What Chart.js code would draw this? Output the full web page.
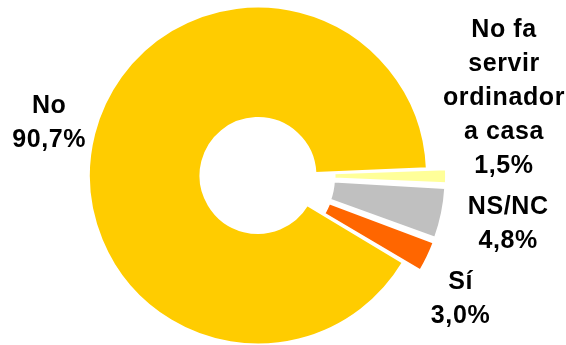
<!DOCTYPE html>
<html>
<head>
<meta charset="utf-8">
<script src="https://cdn.jsdelivr.net/npm/chart.js@4.4.0/dist/chart.umd.min.js"></script>
<style>
  html, body { margin: 0; padding: 0; background: #fff; }
  #wrap { width: 566px; height: 345px; }
</style>
</head>
<body>
<div id="wrap"><canvas id="chart"></canvas></div>
<script>
const categories = ["No", "No fa servir ordinador a casa", "NS/NC", "Sí"];
const shares = [90.7, 1.5, 4.8, 3.0];
const labelLines = [["No"], ["No fa", "servir", "ordinador", "a casa"], ["NS/NC"], ["Sí"]];
const sliceColors = ["#FFCC00", "#FFFF99", "#C0C0C0", "#FF6600"];

// where each label block sits relative to the outer edge of its slice
const labelNudge = [[-45, -13], [58, -80], [66, 9], [33, 40]];

const pct = (v) => v.toFixed(1).replace(".", ",") + "%";

const sliceLabels = {
  id: "sliceLabels",
  afterDatasetsDraw(chart) {
    const ctx = chart.ctx;
    const arcs = chart.getDatasetMeta(0).data;
    ctx.save();
    ctx.font = "bold 25px 'Liberation Sans', Arial, sans-serif";
    if ("letterSpacing" in ctx) ctx.letterSpacing = "0.6px";
    ctx.fillStyle = "#000";
    ctx.textAlign = "center";
    ctx.textBaseline = "alphabetic";
    arcs.forEach((arc, i) => {
      const { x, y, startAngle, endAngle, outerRadius } = arc.getProps(
        ["x", "y", "startAngle", "endAngle", "outerRadius"], true);
      const mid = (startAngle + endAngle) / 2;
      const r = outerRadius + (i === 0 ? 0 : 19);
      const cx = x + Math.cos(mid) * r + labelNudge[i][0];
      const cy = y + Math.sin(mid) * r + labelNudge[i][1];
      const lines = [...labelLines[i], pct(shares[i])];
      lines.forEach((t, j) => {
        ctx.fillText(t, cx, cy + (j - (lines.length - 1) / 2) * 34 + 9);
      });
    });
    ctx.restore();
  },
};

new Chart(document.getElementById("chart"), {
  type: "doughnut",
  data: {
    labels: categories,
    datasets: [{
      data: shares,
      backgroundColor: sliceColors,
      borderColor: "#fff",
      borderWidth: 2,
      offset: [0, 40, 44, 42],
      radius: 169,
    }],
  },
  options: {
    responsive: true,
    maintainAspectRatio: false,
    animation: false,
    cutout: "34%",
    rotation: 121,
    layout: { padding: { left: 0, right: 50, top: 6, bottom: 0 } },
    plugins: {
      legend: { display: false },
      tooltip: { enabled: false },
    },
  },
  plugins: [sliceLabels],
});
</script>
</body>
</html>
